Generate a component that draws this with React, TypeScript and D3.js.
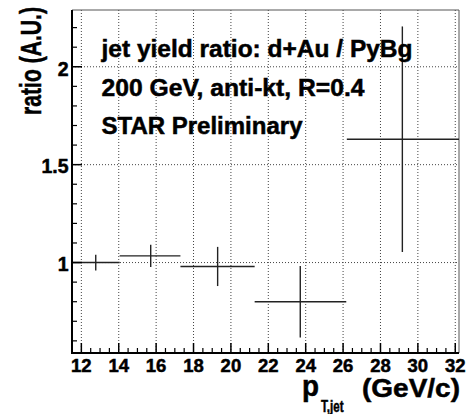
import React from 'react';
import * as d3 from 'd3';

// jet yield ratio per pT bin (GeV/c)
const binCenters = [12.77, 15.71, 19.29, 23.71, 29.17];
const binLow = [11.5, 14.05, 17.3, 21.27, 26.2];
const binHigh = [14.05, 17.3, 21.27, 26.17, 32.2];
const ratios = [1.0, 1.034, 0.98, 0.8, 1.63];
const ratioErrors = [0.04, 0.057, 0.1, 0.183, 0.576];

const xTicks = [12, 14, 16, 18, 20, 22, 24, 26, 28, 30, 32];
const yTicks = [1, 1.5, 2];
const annotations = ['jet yield ratio: d+Au / PyBg', '200 GeV, anti-kt, R=0.4', 'STAR Preliminary'];

const W = 474;
const H = 414;
const left = 72, right = 459, top = 10, bottom = 353;
const font = '"Liberation Sans", Arial, Helvetica, sans-serif';

export default function App() {
  const x = d3.scaleLinear().domain([11.5, 32.2]).range([left, right]);
  const y = d3.scaleLinear().domain([0.538, 2.29]).range([bottom, top]);

  const xMinor = d3.range(12, 32.01, 0.5).filter(v => !xTicks.includes(v));
  const yMinor = d3.range(0.6, 2.29, 0.1).map(v => +v.toFixed(2)).filter(v => !yTicks.includes(v));

  const ink = '#222';

  return (
    <svg width={W} height={H} style={{ position: 'absolute', left: 0, top: 0, background: '#fff' }}
      fontFamily={font} fontWeight="bold">
      <rect x={0} y={0} width={W} height={H} fill="#fff" />

      {/* grid */}
      {xTicks.map(t => (
        <line key={'gx' + t} x1={x(t)} x2={x(t)} y1={top} y2={bottom}
          stroke="#444" strokeWidth={1} strokeDasharray="1,2" />
      ))}
      {yTicks.map(t => (
        <line key={'gy' + t} x1={left} x2={right} y1={y(t)} y2={y(t)}
          stroke="#444" strokeWidth={1} strokeDasharray="1,2" />
      ))}

      {/* frame */}
      <line x1={left} x2={right} y1={top} y2={top} stroke="#555" strokeWidth={1} />
      <line x1={right} x2={right} y1={top} y2={bottom} stroke="#555" strokeWidth={1} />

      {/* data */}
      {binCenters.map((c, i) => (
        <g key={'p' + i} stroke={ink} strokeWidth={1.4}>
          <line x1={x(binLow[i])} x2={x(binHigh[i])} y1={y(ratios[i])} y2={y(ratios[i])} />
          <line x1={x(c)} x2={x(c)} y1={y(ratios[i] - ratioErrors[i])} y2={y(ratios[i] + ratioErrors[i])} />
        </g>
      ))}

      {/* axes */}
      <line x1={left} x2={right} y1={bottom} y2={bottom} stroke="#000" strokeWidth={2} />
      <line x1={left} x2={left} y1={top} y2={bottom + 1} stroke="#000" strokeWidth={2} />
      {xTicks.map(t => (
        <line key={'tx' + t} x1={x(t)} x2={x(t)} y1={bottom} y2={bottom - 10} stroke="#000" strokeWidth={1.5} />
      ))}
      {xMinor.map(t => (
        <line key={'mx' + t} x1={x(t)} x2={x(t)} y1={bottom} y2={bottom - 5} stroke="#000" strokeWidth={1.2} />
      ))}
      {yTicks.map(t => (
        <line key={'ty' + t} x1={left} x2={left + 10} y1={y(t)} y2={y(t)} stroke="#000" strokeWidth={1.5} />
      ))}
      {yMinor.map(t => (
        <line key={'my' + t} x1={left} x2={left + 5} y1={y(t)} y2={y(t)} stroke="#000" strokeWidth={1.2} />
      ))}

      <g stroke="#000" strokeWidth={0.5}>
        {/* tick labels */}
        {xTicks.map(t => (
          <text key={'lx' + t} x={x(t)} y={372} fontSize={18.5} textAnchor="middle">{t}</text>
        ))}
        {yTicks.map(t => (
          <text key={'ly' + t} x={68.5} y={y(t) + 8.8} fontSize={19.5} textAnchor="end">{t}</text>
        ))}

        {/* annotations */}
        {annotations.map((s, i) => (
          <text key={'a' + i} x={101.5} y={[57, 95.5, 134][i]} fontSize={24}
            textLength={[311, 263, 201][i]} lengthAdjust="spacingAndGlyphs">{s}</text>
        ))}

        {/* axis titles */}
        <text transform="translate(41,115) rotate(-90)" fontSize={29} textLength={108} lengthAdjust="spacingAndGlyphs">
          ratio (A.U.)
        </text>
        <text x={302} y={396} fontSize={29} textLength={17} lengthAdjust="spacingAndGlyphs">p</text>
        <text x={321} y={412} fontSize={16} textLength={22.5} lengthAdjust="spacingAndGlyphs">T,jet</text>
        <text x={362} y={397} fontSize={26} textLength={98} lengthAdjust="spacingAndGlyphs">(GeV/c)</text>
      </g>
    </svg>
  );
}
